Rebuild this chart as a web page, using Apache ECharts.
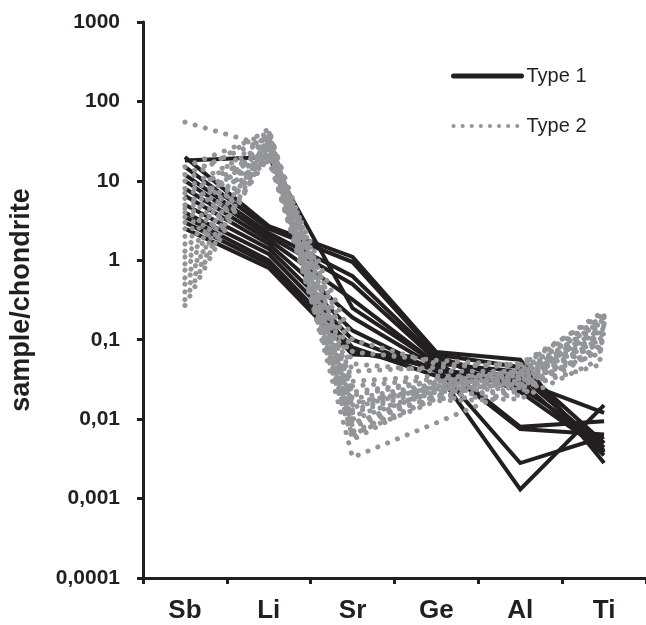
<!DOCTYPE html>
<html>
<head>
<meta charset="utf-8">
<script src="https://cdn.jsdelivr.net/npm/echarts@6/dist/echarts.min.js"></script>
<style>html,body{margin:0;padding:0;background:#fff;}#c{width:646px;height:625px;}</style>
</head>
<body>
<div id="c"></div>
<script>
var categories = ['Sb', 'Li', 'Sr', 'Ge', 'Al', 'Ti'];
var yTickLabels = ['0,0001', '0,001', '0,01', '0,1', '1', '10', '100', '1000'];

// Type 1 samples (solid black)
var type1_01 = [18, 20, 0.25, 0.05, 0.04, 0.0038];
var type1_02 = [20, 2.7, 1.1, 0.07, 0.056, 0.0028];
var type1_03 = [15, 2.5, 0.95, 0.065, 0.045, 0.005];
var type1_04 = [12, 2.2, 0.63, 0.06, 0.022, 0.004];
var type1_05 = [10, 2.0, 0.5, 0.055, 0.008, 0.0094];
var type1_06 = [8, 1.8, 0.32, 0.05, 0.0075, 0.0064];
var type1_07 = [6.5, 1.6, 0.19, 0.045, 0.0028, 0.006];
var type1_08 = [5, 1.4, 0.13, 0.04, 0.0013, 0.015];
var type1_09 = [4, 1.2, 0.1, 0.04, 0.035, 0.0044];
var type1_10 = [3.5, 1.0, 0.08, 0.035, 0.03, 0.012];
var type1_11 = [3, 0.9, 0.07, 0.045, 0.025, 0.005];
var type1_12 = [2.5, 0.8, 0.065, 0.06, 0.03, 0.0035];

// Type 2 samples (dotted grey)
var type2_01 = [55, 27, 0.1, 0.05, 0.045, 0.23];
var type2_02 = [15, 40, 0.05, 0.04, 0.04, 0.2];
var type2_03 = [12, 35, 0.03, 0.035, 0.035, 0.18];
var type2_04 = [10, 45, 0.02, 0.03, 0.03, 0.15];
var type2_05 = [8, 30, 0.015, 0.028, 0.028, 0.13];
var type2_06 = [7, 25, 0.012, 0.025, 0.033, 0.12];
var type2_07 = [6, 38, 0.01, 0.022, 0.025, 0.1];
var type2_08 = [5, 22, 0.008, 0.02, 0.022, 0.09];
var type2_09 = [4.5, 33, 0.007, 0.018, 0.02, 0.08];
var type2_10 = [4, 28, 0.006, 0.03, 0.038, 0.14];
var type2_11 = [3.5, 20, 0.0055, 0.02, 0.03, 0.07];
var type2_12 = [3, 35, 0.0033, 0.009, 0.025, 0.05];
var type2_13 = [2.5, 18, 0.016, 0.025, 0.028, 0.11];
var type2_14 = [2, 30, 0.022, 0.03, 0.042, 0.17];
var type2_15 = [1.6, 25, 0.011, 0.022, 0.03, 0.095];
var type2_16 = [1.3, 42, 0.009, 0.019, 0.024, 0.085];
var type2_17 = [1.1, 22, 0.013, 0.027, 0.035, 0.12];
var type2_18 = [0.9, 28, 0.04, 0.045, 0.05, 0.21];
var type2_19 = [0.75, 32, 0.026, 0.032, 0.04, 0.16];
var type2_20 = [0.6, 20, 0.0065, 0.017, 0.018, 0.06];
var type2_21 = [0.5, 36, 0.0085, 0.024, 0.027, 0.075];
var type2_22 = [0.4, 24, 0.07, 0.055, 0.048, 0.19];
var type2_23 = [0.32, 30, 0.018, 0.028, 0.032, 0.105];
var type2_24 = [0.27, 26, 0.014, 0.026, 0.036, 0.135];

var type1 = [type1_01, type1_02, type1_03, type1_04, type1_05, type1_06, type1_07, type1_08, type1_09, type1_10, type1_11, type1_12];
var type2 = [type2_01, type2_02, type2_03, type2_04, type2_05, type2_06, type2_07, type2_08, type2_09, type2_10, type2_11, type2_12,
             type2_13, type2_14, type2_15, type2_16, type2_17, type2_18, type2_19, type2_20, type2_21, type2_22, type2_23, type2_24];

var BLACK = '#231f20';
var GREY = '#939598';
var FONT = 'Liberation Sans, Arial, sans-serif';

var series = [];
type1.forEach(function (d) {
  series.push({
    name: 'Type 1', type: 'line', data: d, symbol: 'none', silent: true,
    lineStyle: { color: BLACK, width: 4, join: 'miter' },
    itemStyle: { color: BLACK }
  });
});
type2.forEach(function (d) {
  series.push({
    name: 'Type 2', type: 'line', data: d, symbol: 'none', silent: true,
    lineStyle: { color: GREY, width: 5, type: [0.1, 10.5], cap: 'round' },
    itemStyle: { color: GREY }
  });
});

var chart = echarts.init(document.getElementById('c'), null, { renderer: 'canvas' });
chart.setOption({
  animation: false,
  backgroundColor: '#ffffff',
  textStyle: { fontFamily: FONT },
  legend: {
    data: [
      { name: 'Type 1', lineStyle: { width: 5, cap: 'round' } },
      { name: 'Type 2', lineStyle: { width: 4, type: [0.1, 9], cap: 'round' } }
    ],
    orient: 'vertical',
    left: 446, top: 61,
    itemWidth: 68, itemHeight: 20, itemGap: 30,
    itemStyle: { opacity: 0 },
    textStyle: { fontSize: 20, color: BLACK, fontFamily: FONT }
  },
  grid: { left: 141, right: 0, top: 22, bottom: 47, containLabel: false },
  xAxis: {
    type: 'category',
    data: categories,
    boundaryGap: true,
    axisLine: { lineStyle: { color: BLACK, width: 3 } },
    axisTick: { show: true, length: 6, inside: false, lineStyle: { color: BLACK, width: 3 } },
    axisLabel: { fontSize: 26, fontWeight: 'bold', color: BLACK, margin: 20, fontFamily: FONT },
    splitLine: { show: false }
  },
  yAxis: {
    type: 'log',
    logBase: 10,
    min: 0.0001,
    max: 1000,
    name: 'sample/chondrite',
    nameLocation: 'middle',
    nameRotate: 90,
    nameGap: 108,
    nameTextStyle: { fontSize: 27, fontWeight: 'bold', color: BLACK, fontFamily: FONT },
    axisLine: { show: true, lineStyle: { color: BLACK, width: 3 } },
    axisTick: { show: true, length: 6, inside: false, lineStyle: { color: BLACK, width: 3 } },
    axisLabel: {
      fontSize: 21, fontWeight: 'bold', color: BLACK, margin: 23, fontFamily: FONT,
      formatter: function (v) {
        var i = Math.round(Math.log10(v)) + 4;
        return yTickLabels[i] !== undefined ? yTickLabels[i] : '';
      }
    },
    splitLine: { show: false },
    minorTick: { show: false }
  },
  series: series
});
</script>
</body>
</html>
